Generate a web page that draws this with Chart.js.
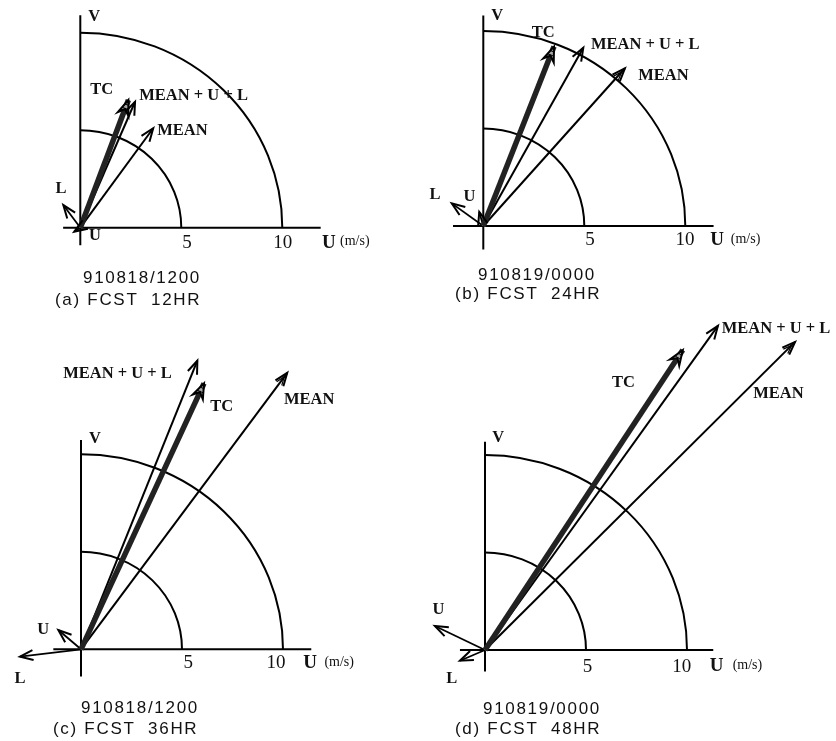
<!DOCTYPE html>
<html lang="en">
<head>
  <meta charset="UTF-8">
  <title>Vectores U-V</title>
  <style>
    body { margin: 0; background: #fff; }
    #hoja { position: relative; width: 836px; height: 741px; overflow: hidden; }
    #hoja canvas { position: absolute; }
    .pie { position: absolute; font-family: "Liberation Sans", Arial, sans-serif; font-size: 17px;
           letter-spacing: 1.7px; color: #111; white-space: pre; line-height: 1; }
  </style>
</head>
<body>
  <div id="hoja"></div>

  <script src="https://cdn.jsdelivr.net/npm/chart.js"></script>
  <script>
    // vectores (m/s) por panel: a, b, c, d
    const tcU   = [2.38, 3.50, 6.09, 9.79];
    const tcV   = [6.55, 9.20, 13.64, 15.38];
    const sumaU = [2.71, 4.95, 5.76, 11.53];
    const sumaV = [6.46, 9.14, 14.80, 16.62];
    const mediaU = [3.61, 7.01, 10.21, 15.35];
    const mediaV = [5.10, 8.09, 14.18, 15.80];
    const uU = [-0.30, -0.20, -1.12, -2.48];
    const uV = [-0.20, 0.72, 0.99, 1.23];
    const lU = [-0.84, -1.56, -3.02, -1.24];
    const lV = [1.16, 1.16, -0.38, -0.55];

    const anillos = [5, 10];
    const ticks = ['5', '10'];
    const fechas = ['910818/1200', '910819/0000', '910818/1200', '910819/0000'];
    const titulos = ['(a) FCST  12HR', '(b) FCST  24HR', '(c) FCST  36HR', '(d) FCST  48HR'];

    // maquetacion (px) de cada panel
    const PX_U = 20.2, PX_V = 19.5;
    const marcos = [
      { left: 0,   top: 0,   w: 418, h: 310, ox: 80.3, oy: 227.7 },
      { left: 418, top: 0,   w: 418, h: 310, ox: 65.3, oy: 226 },
      { left: 0,   top: 310, w: 418, h: 431, ox: 81,   oy: 339.3 },
      { left: 418, top: 310, w: 418, h: 431, ox: 67,   oy: 340 }
    ];
    const ejeU = [[-0.85, 11.9], [-1.5, 11.4], [-1.37, 11.4], [-1.24, 11.3]];
    const ejeV = [[-0.9, 10.9], [-1.2, 10.8], [-1.4, 10.73], [-1.1, 10.68]];
    const pies = [
      { f: [83, 269], t: [55, 291] },
      { f: [478, 266], t: [455, 285] },
      { f: [81, 699], t: [53, 720] },
      { f: [483, 700], t: [455, 720] }
    ];

    const NEGRITA = 'bold 16.5px "Liberation Serif", "Times New Roman", serif';
    const etiquetas = [
      [
        { t: 'V', u: 0.69, v: 10.82 }, { t: 'TC', u: 1.06, v: 7.06 },
        { t: 'MEAN + U + L', u: 2.92, v: 6.75, a: 'left' }, { t: 'MEAN', u: 3.81, v: 4.97, a: 'left' },
        { t: 'L', u: -0.96, v: 1.98 }, { t: 'U', u: 0.73, v: -0.43 }
      ],
      [
        { t: 'V', u: 0.69, v: 10.78 }, { t: 'TC', u: 2.97, v: 9.93 },
        { t: 'MEAN + U + L', u: 5.33, v: 9.32, a: 'left' }, { t: 'MEAN', u: 7.67, v: 7.69, a: 'left' },
        { t: 'L', u: -2.39, v: 1.59 }, { t: 'U', u: -0.69, v: 1.50 }
      ],
      [
        { t: 'V', u: 0.69, v: 10.82 }, { t: 'TC', u: 6.97, v: 12.44 },
        { t: 'MEAN + U + L', u: -0.88, v: 14.15, a: 'left' }, { t: 'MEAN', u: 10.05, v: 12.78, a: 'left' },
        { t: 'U', u: -1.87, v: 0.99 }, { t: 'L', u: -3.02, v: -1.49 }
      ],
      [
        { t: 'V', u: 0.66, v: 10.86 }, { t: 'TC', u: 6.85, v: 13.73 },
        { t: 'MEAN + U + L', u: 11.72, v: 16.46, a: 'left' }, { t: 'MEAN', u: 13.28, v: 13.13, a: 'left' },
        { t: 'U', u: -2.31, v: 2.05 }, { t: 'L', u: -1.65, v: -1.45 }
      ]
    ];
    // posicion de "5", "10", "U", "(m/s)"
    const ejeTexto = [
      { t5: 5.28, t10: 10.02, tu: 12.31, tm: 12.86, v: -0.77 },
      { t5: 5.28, t10: 9.98, tu: 11.58, tm: 12.25, v: -0.72 },
      { t5: 5.31, t10: 9.65, tu: 11.34, tm: 12.05, v: -0.72 },
      { t5: 5.08, t10: 9.74, tu: 11.47, tm: 12.26, v: -0.85 }
    ];

    function punta(ctx, p0, p1, estilo) {
      const ang = Math.atan2(p1.y - p0.y, p1.x - p0.x);
      const largo = estilo === 'tc' ? 16 : 14;
      const abre = 0.36;
      ctx.save();
      ctx.strokeStyle = '#000';
      ctx.lineWidth = 2;
      if (estilo === 'tc') {
        ctx.beginPath();
        ctx.moveTo(p1.x, p1.y);
        ctx.lineTo(p1.x - largo * Math.cos(ang - abre), p1.y - largo * Math.sin(ang - abre));
        ctx.lineTo(p1.x - 0.6 * largo * Math.cos(ang), p1.y - 0.6 * largo * Math.sin(ang));
        ctx.lineTo(p1.x - largo * Math.cos(ang + abre), p1.y - largo * Math.sin(ang + abre));
        ctx.closePath();
        ctx.fillStyle = '#a8a8a8';
        ctx.fill();
        ctx.stroke();
        // rayado interior
        ctx.lineWidth = 1;
        [5, 9].forEach(d => {
          const cx = p1.x - d * Math.cos(ang), cy = p1.y - d * Math.sin(ang);
          const s = d * Math.tan(abre);
          ctx.beginPath();
          ctx.moveTo(cx + s * Math.sin(ang), cy - s * Math.cos(ang));
          ctx.lineTo(cx - s * Math.sin(ang), cy + s * Math.cos(ang));
          ctx.stroke();
        });
      } else {
        const ramas = estilo === 'hueca' ? [0, 5] : [0];
        ramas.forEach(atras => {
          const bx = p1.x - atras * Math.cos(ang), by = p1.y - atras * Math.sin(ang);
          const l = largo - atras;
          ctx.lineWidth = atras ? 1.2 : 2;
          ctx.beginPath();
          ctx.moveTo(bx - l * Math.cos(ang - abre), by - l * Math.sin(ang - abre));
          ctx.lineTo(bx, by);
          ctx.lineTo(bx - l * Math.cos(ang + abre), by - l * Math.sin(ang + abre));
          ctx.stroke();
        });
      }
      ctx.restore();
    }

    const pluginVectores = {
      id: 'vectores',
      beforeDatasetsDraw(chart, args, opts) {
        const { ctx, scales: { x, y } } = chart;
        const i = opts.panel;
        const x0 = x.getPixelForValue(0), y0 = y.getPixelForValue(0);
        ctx.save();
        ctx.strokeStyle = '#000';
        ctx.lineWidth = 2;
        anillos.forEach(r => {
          const rx = x.getPixelForValue(r) - x0;
          const ry = y0 - y.getPixelForValue(r);
          ctx.beginPath();
          ctx.ellipse(x0, y0, rx, ry, 0, -Math.PI / 2, 0);
          ctx.stroke();
        });
        ctx.beginPath();
        ctx.moveTo(x.getPixelForValue(ejeU[i][0]), y0);
        ctx.lineTo(x.getPixelForValue(ejeU[i][1]), y0);
        ctx.moveTo(x0, y.getPixelForValue(ejeV[i][0]));
        ctx.lineTo(x0, y.getPixelForValue(ejeV[i][1]));
        ctx.stroke();
        ctx.restore();
      },
      afterDatasetsDraw(chart, args, opts) {
        const { ctx, scales: { x, y } } = chart;
        const i = opts.panel;
        chart.data.datasets.forEach((ds, k) => {
          if (!ds.punta) return;
          const pts = chart.getDatasetMeta(k).data;
          punta(ctx, pts[0], pts[1], ds.punta);
        });

        ctx.save();
        ctx.fillStyle = '#111';
        ctx.textBaseline = 'middle';
        ctx.font = NEGRITA;
        etiquetas[i].forEach(e => {
          ctx.textAlign = e.a || 'center';
          ctx.fillText(e.t, x.getPixelForValue(e.u), y.getPixelForValue(e.v));
        });
        const et = ejeTexto[i];
        const yt = y.getPixelForValue(et.v);
        ctx.font = '19px "Liberation Serif", "Times New Roman", serif';
        ctx.textAlign = 'center';
        ctx.fillText(ticks[0], x.getPixelForValue(et.t5), yt);
        ctx.fillText(ticks[1], x.getPixelForValue(et.t10), yt);
        ctx.font = 'bold 19px "Liberation Serif", "Times New Roman", serif';
        ctx.fillText('U', x.getPixelForValue(et.tu), yt);
        ctx.font = '14px "Liberation Serif", "Times New Roman", serif';
        ctx.textAlign = 'left';
        ctx.fillText('(m/s)', x.getPixelForValue(et.tm), yt - 1);
        ctx.restore();
      }
    };

    function linea(u, v, extra) {
      return Object.assign({
        data: [{ x: 0, y: 0 }, { x: u, y: v }],
        showLine: true,
        borderColor: '#000',
        borderWidth: 2,
        pointRadius: 0,
        clip: false
      }, extra);
    }

    const hoja = document.querySelector('#hoja');

    marcos.forEach((m, i) => {
      const lienzo = document.createElement('canvas');
      lienzo.width = m.w;
      lienzo.height = m.h;
      lienzo.style.left = m.left + 'px';
      lienzo.style.top = m.top + 'px';
      hoja.appendChild(lienzo);

      new Chart(lienzo, {
        type: 'scatter',
        data: {
          datasets: [
            linea(tcU[i], tcV[i], { borderColor: '#222', borderWidth: 5.5, punta: 'tc' }),
            linea(tcU[i], tcV[i], { borderColor: '#b8b8b8', borderWidth: 3, borderDash: [5, 2] }),
            linea(sumaU[i], sumaV[i], { punta: 'abierta' }),
            linea(mediaU[i], mediaV[i], { punta: i === 0 ? 'abierta' : 'hueca' }),
            linea(uU[i], uV[i], { borderWidth: 1.8, punta: 'abierta' }),
            linea(lU[i], lV[i], { borderWidth: 1.8, punta: 'abierta' })
          ]
        },
        options: {
          responsive: false,
          animation: false,
          devicePixelRatio: 1,
          layout: { padding: 0 },
          plugins: {
            legend: { display: false },
            tooltip: { enabled: false },
            vectores: { panel: i }
          },
          scales: {
            x: { type: 'linear', display: false, min: -m.ox / PX_U, max: (m.w - m.ox) / PX_U },
            y: { type: 'linear', display: false, min: -(m.h - m.oy) / PX_V, max: m.oy / PX_V }
          }
        },
        plugins: [pluginVectores]
      });

      const f = document.createElement('div');
      f.className = 'pie';
      f.textContent = fechas[i];
      f.style.left = pies[i].f[0] + 'px';
      f.style.top = pies[i].f[1] + 'px';
      hoja.appendChild(f);

      const t = document.createElement('div');
      t.className = 'pie';
      t.textContent = titulos[i];
      t.style.left = pies[i].t[0] + 'px';
      t.style.top = pies[i].t[1] + 'px';
      hoja.appendChild(t);
    });
  </script>
</body>
</html>
